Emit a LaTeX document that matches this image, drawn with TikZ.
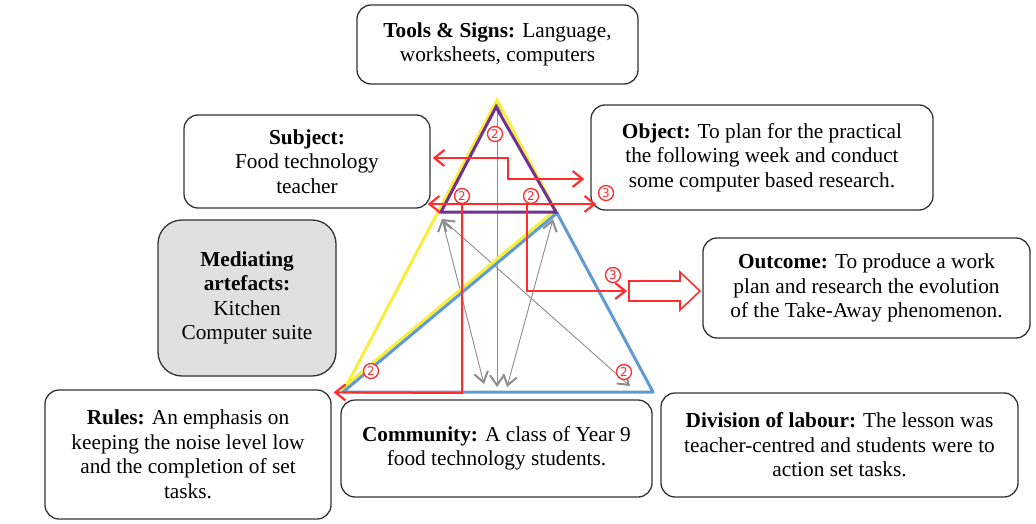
\documentclass[tikz,border=0pt]{standalone}
\usepackage{fontspec}
\setmainfont{Liberation Serif}
\newfontfamily\circfont{DejaVu Sans}
\usetikzlibrary{arrows.meta}
\definecolor{triyellow}{RGB}{250,238,60}
\definecolor{triblue}{RGB}{95,155,210}
\definecolor{tripurple}{RGB}{112,48,150}
\definecolor{linkred}{RGB}{255,45,45}
\definecolor{boxgray}{RGB}{224,224,224}
\tikzset{
  box/.style={draw=black!80, line width=1.3pt, rounded corners=14pt, align=center,
    inner sep=0pt, font=\fontsize{21.3}{24.5}\selectfont},
  redlink/.style={linkred, line width=2pt,
    >={Straight Barb[length=10pt,width=16pt,line width=2.2pt]}},
  graylink/.style={black!45, line width=0.9pt,
    >={Straight Barb[length=10pt,width=14pt,line width=2pt]}},
  num/.style={circle, draw=linkred, line width=1.3pt, fill=white, text=linkred,
    minimum size=15pt, inner sep=0pt, font=\circfont\fontsize{12}{12}\selectfont},
}
\begin{document}
\begin{tikzpicture}[x=1pt,y=-1pt]
\useasboundingbox (0,0) rectangle (1036,524);

% boxes
\node[box, minimum width=281, minimum height=79] (tools) at (497.5,44.5)
  {\textbf{Tools \& Signs:} Language,\\worksheets, computers};
\node[box, minimum width=246, minimum height=93] (subject) at (307,161.5)
  {\textbf{Subject:}\\Food technology\\teacher};
\node[box, minimum width=342, minimum height=105] (object) at (762,157.5)
  {\textbf{Object:} To plan for the practical\\the following week and conduct\\some computer based research.};
\node[box, fill=boxgray, rounded corners=24pt, minimum width=178, minimum height=156] (artefacts) at (247,298)
  {\textbf{Mediating}\\\textbf{artefacts:}\\Kitchen\\Computer suite};
\node[box, minimum width=327, minimum height=100] (outcome) at (866.5,288)
  {\textbf{Outcome:} To produce a work\\plan and research the evolution\\of the Take-Away phenomenon.};
\node[box, minimum width=286, minimum height=129] (rules) at (188,454.5)
  {\textbf{Rules:} An emphasis on\\keeping the noise level low\\and the completion of set\\tasks.};
\node[box, minimum width=311, minimum height=97] (community) at (496.5,448.5)
  {\textbf{Community:} A class of Year 9\\food technology students.};
\node[box, minimum width=357, minimum height=104] (division) at (839.5,445)
  {\textbf{Division of labour:} The lesson was\\teacher-centred and students were to\\action set tasks.};

% triangle corners
\coordinate (apex) at (497,100);
\coordinate (midL) at (440,213);
\coordinate (midR) at (557,213);
\coordinate (botL) at (343,392);
\coordinate (botR) at (653,392);

% grey links
\coordinate (gtop) at (497,103);
\coordinate (gbot) at (497,387);
\coordinate (gl) at (442,219);
\coordinate (gr) at (553,219);
\coordinate (gbl) at (484,384);
\coordinate (gbr) at (507,387);
\coordinate (gfar) at (630,386);
\draw[graylink,<->] (gtop) -- (gbot);
\draw[graylink,<->] (gl) -- (gbl);
\draw[graylink,<->] (gr) -- (gbr);
\draw[graylink,<->] (gl) -- (gfar);

% triangles
\draw[triyellow, line width=3pt] (midR) -- (apex) -- (botL);
\draw[triyellow, line width=3pt] ([shift={(-2,-2.5)}]midR) -- ([shift={(-2,-2.5)}]botL);
\draw[triblue, line width=3pt, line join=round] (midR) -- (botR) -- (botL) -- cycle;
\draw[tripurple, line width=3pt] (496,107) -- (441,212) -- (556,212) -- cycle;

% block arrow to the outcome
\coordinate (outarrow) at (629,291);
\draw[linkred, line width=1.6pt, fill=white] (outarrow) -- ++(0,-10) -- ++(51,0) -- ++(0,-9)
  -- ++(20,19) -- ++(-20,19) -- ++(0,-9) -- ++(-51,0) -- cycle;

% red links
\coordinate (bend1) at (508,158);
\coordinate (bend2) at (508,179);
\coordinate (split1) at (462,204);
\coordinate (split2) at (527,204);
\coordinate (down1) at (462,393);
\coordinate (down2) at (527,291);
\draw[redlink,<->] ([xshift=2pt,yshift=3.5pt]subject.east) -- (bend1) -- (bend2)
  -- ([xshift=-6pt,yshift=-21.5pt]object.west);
\draw[redlink,<->] ([xshift=-3pt,yshift=-42.5pt]subject.east)
  -- ([xshift=6pt,yshift=-46.5pt]object.west);
\draw[redlink,->] (split1) -- (down1) -- ([xshift=2pt,yshift=-3pt]rules.north east);
\draw[redlink,->] (split2) -- (down2) -- ([xshift=-2pt]outarrow);

% numbers
\node[num] (n1) at (495,134) {2};
\node[num] (n2) at (462,196) {2};
\node[num] (n3) at (531,196) {2};
\node[num] (n4) at (606,193) {3};
\node[num] (n5) at (613,275) {3};
\node[num] (n6) at (371,371) {2};
\node[num] (n7) at (624,372) {2};
\end{tikzpicture}
\end{document}
